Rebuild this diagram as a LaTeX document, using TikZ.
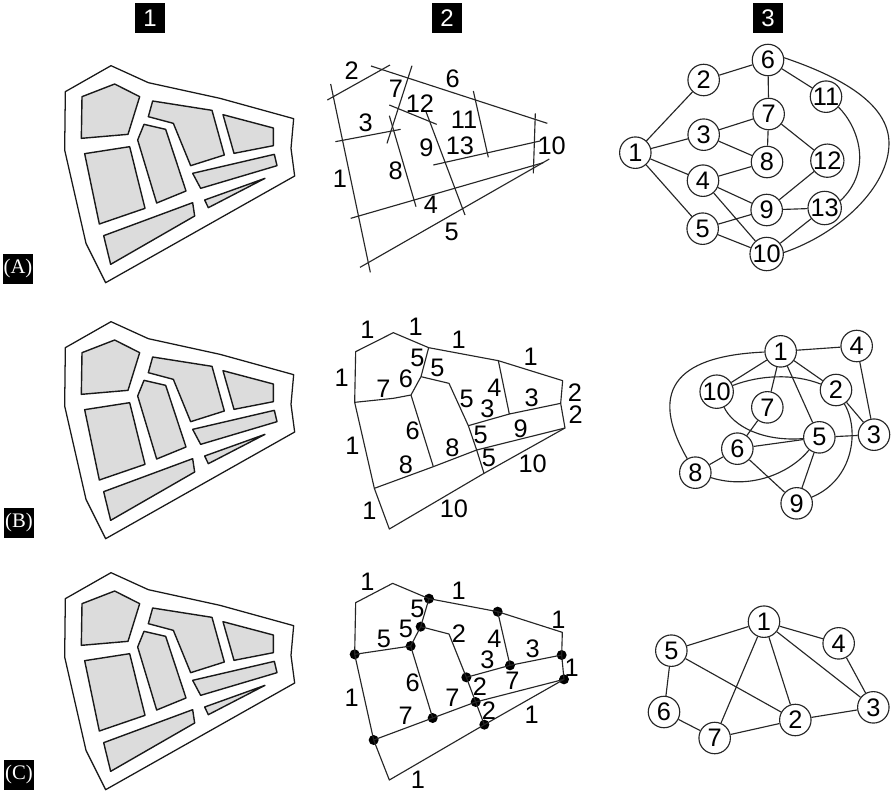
\documentclass[tikz,border=0pt]{standalone}
\usepackage{fontspec}
\setmainfont{Liberation Sans}
\newfontfamily\serifcap{Liberation Serif}
\definecolor{blockgray}{HTML}{DCDCDC}
\tikzset{
  ln/.style={draw=black!85,line width=.85pt,line join=round},
  outerline/.style={draw=black!90,line width=.95pt,line join=round},
  block/.style={draw=black!90,fill=blockgray,line width=1.05pt,line join=round},
  num/.style={font=\fontsize{19}{19}\selectfont,inner sep=0pt,text=black},
  gn/.style={circle,draw=black!85,fill=white,line width=.85pt,minimum size=23.6pt,inner sep=0pt,font=\fontsize{19}{19}\selectfont,text=black},
  head/.style={fill=black,text=white,minimum size=22.5pt,inner sep=0pt,font=\fontsize{18}{18}\selectfont},
  rowlab/.style={fill=black,text=white,minimum size=22.5pt,inner sep=0pt,font=\serifcap\fontsize{15.5}{15.5}\selectfont},
  dot/.style={circle,fill=black,minimum size=7.5pt,inner sep=0pt},
  zoomed/.style={x=.25pt,y=-.25pt},
}
\newcommand{\cityplan}[1]{%
\begin{scope}[shift={(0,#1)},zoomed]
\draw[outerline] (196,275)--(333,197)--(445,248)--(660,295)--(881,356)--(873,445)--(884,528)--(317,848)--(258,730)--(194,450)--cycle;
\draw[block] (246,290)--(344,252)--(419,290)--(384,403)--(244,415)--cycle;
\draw[block] (458,303)--(636,331)--(673,465)--(572,497)--(520,370)--(445,350)--cycle;
\draw[block] (669,344)--(820,384)--(820,437)--(702,460)--cycle;
\draw[block] (254,461)--(389,440)--(435,625)--(298,672)--cycle;
\draw[block] (432,373)--(497,388)--(558,573)--(470,609)--(413,420)--cycle;
\draw[block] (578,520)--(823,463)--(831,497)--(602,565)--cycle;
\draw[block] (614,600)--(795,535)--(625,623)--cycle;
\draw[block] (311,707)--(578,608)--(584,648)--(332,793)--cycle;
\end{scope}}
\begin{document}
\begin{tikzpicture}[x=.75pt,y=-.75pt]
\path[use as bounding box,fill=white] (0,0) rectangle (894,794);
% headers
\node[head] (h1) at (150,18) {1};
\node[head] (h2) at (447,18) {2};
\node[head] (h3) at (768,18) {3};
\node[rowlab] (ra) at (18,269) {(A)};
\node[rowlab] (rb) at (19,523) {(B)};
\node[rowlab] (rc) at (19,775) {(C)};
% column 1
\cityplan{0}
\cityplan{256}
\cityplan{507}
% column 2, row A
\begin{scope}[shift={(310,30)},zoomed]
\draw[ln] (52,210)--(240,105);
\draw[ln] (183,108)--(712,280);
\draw[ln] (62,162)--(181,727);
\draw[ln] (306,107)--(231,340);
\draw[ln] (238,225)--(380,283);
\draw[ln] (238,257)--(318,530);
\draw[ln] (76,335)--(272,298);
\draw[ln] (348,245)--(465,555);
\draw[ln] (490,183)--(535,382);
\draw[ln] (370,405)--(690,333);
\draw[ln] (676,250)--(670,430);
\draw[ln] (122,565)--(700,398);
\draw[ln] (150,712)--(718,387);
\foreach \t/\x/\y/\n in {2/125/122/l1,6/428/145/l2,7/258/175/l3,12/330/220/l4,11/462/268/l5,3/167/278/l6,9/349/353/l7,13/450/348/l8,10/725/348/l9,8/257/422/l10,1/90/447/l11,4/363/525/l12,5/425/605/l13}
  \node[num] (pa\n) at (\x,\y) {\t};
\end{scope}
% column 2, row B
\begin{scope}[shift={(310,300)},zoomed]
\draw[ln] (137,155)--(250,98)--(356,143)--(565,182)--(758,242)--(752,310)--(765,384)--(522,520)--(238,687)--(193,565)--(134,307)--cycle;
\draw[ln] (356,143)--(333,230)--(303,285)--(250,295)--(134,307);
\draw[ln] (333,230)--(417,250)--(475,377)--(500,450)--(522,520);
\draw[ln] (303,285)--(370,500);
\draw[ln] (193,565)--(370,500)--(500,450)--(765,384);
\draw[ln] (475,377)--(598,342)--(752,310);
\draw[ln] (565,182)--(598,342);
\foreach \t/\x/\y/\n in {1/172/90/l1,1/317/80/l2,1/446/120/l3,1/662/170/l4,1/95/233/l5,1/127/438/l6,1/178/632/l7,5/322/175/l8,5/382/205/l9,6/288/235/l10,7/220/265/l11,4/553/262/l12,5/470/298/l13,3/532/325/l14,3/665/292/l15,2/795/277/l16,2/797/343/l17,6/308/393/l18,5/512/405/l19,9/632/385/l20,8/427/442/l21,8/288/495/l22,5/537/475/l23,10/668/490/l24,10/432/625/l25}
  \node[num] (pb\n) at (\x,\y) {\t};
\end{scope}
% column 2, row C
\begin{scope}[shift={(310,560)},zoomed]
\node[dot] (a) at (357,116) {};
\node[dot] (b) at (563,155) {};
\node[dot] (c) at (755,285) {};
\node[dot] (d) at (762,358) {};
\node[dot] (e) at (600,316) {};
\node[dot] (f) at (469,352) {};
\node[dot] (g) at (497,426) {};
\node[dot] (h) at (523,494) {};
\node[dot] (i) at (368,474) {};
\node[dot] (j) at (191,540) {};
\node[dot] (k) at (134,283) {};
\node[dot] (l) at (302,258) {};
\node[dot] (m) at (332,200) {};
\coordinate (o1) at (137,128);
\coordinate (o2) at (248,70);
\coordinate (o3) at (757,217);
\coordinate (o4) at (238,660);
\coordinate (o5) at (417,222);
\draw[ln] (k.center)--(o1)--(o2)--(a.center)--(b.center)--(o3)--(c.center)--(d.center)--(h.center)--(o4)--(j.center)--(k.center);
\draw[ln] (a.center)--(m.center)--(l.center)--(k.center);
\draw[ln] (m.center)--(o5)--(f.center)--(g.center)--(h.center);
\draw[ln] (l.center)--(i.center);
\draw[ln] (j.center)--(i.center)--(g.center)--(d.center);
\draw[ln] (f.center)--(e.center)--(c.center);
\draw[ln] (b.center)--(e.center);
\foreach \t/\x/\y/\n in {1/172/65/l1,1/446/92/l2,1/745/178/l3,1/785/322/l4,1/125/412/l5,1/665/465/l6,1/324/660/l7,5/322/148/l8,5/288/208/l9,2/447/222/l10,5/222/238/l11,4/553/235/l12,3/532/300/l13,3/668/265/l14,6/308/367/l15,7/607/362/l16,2/510/380/l17,7/427/412/l18,7/287/468/l19,2/537/452/l20}
  \node[num] (pc\n) at (\x,\y) {\t};
\end{scope}
% column 3, row A
\begin{scope}[shift={(600,30)},zoomed]
\foreach \t/\x/\y in {1/106/368,2/311/150,3/311/314,4/309/452,5/308/596,6/504/90,7/506/252,8/501/396,9/500/540,10/500/672,11/678/200,12/682/392,13/674/534}
  \node[gn] (A\t) at (\x,\y) {\t};
\coordinate (Amid) at (867,340);
\draw[ln] (A1)--(A2) (A2)--(A6) (A1)--(A3) (A1)--(A4) (A1)--(A5) (A3)--(A7) (A3)--(A8) (A4)--(A8) (A4)--(A9) (A4)--(A10) (A5)--(A9) (A5)--(A10) (A6)--(A7) (A7)--(A8) (A7)--(A12) (A6)--(A11) (A12)--(A9) (A9)--(A13) (A13)--(A10);
\draw[ln] (A11.-40) .. controls (775,290) and (820,420) .. (A13.25);
\draw[ln] (A6.8) .. controls (720,140) and (867,220) .. (Amid) .. controls (867,470) and (720,610) .. (A10.5);
\end{scope}
% column 3, row B
\begin{scope}[shift={(620,310)},zoomed]
\foreach \t/\x/\y in {1/482/124,4/710/108,10/290/245,2/648/240,7/442/292,3/762/374,5/598/382,6/352/416,8/226/488,9/530/580}
  \node[gn] (B\t) at (\x,\y) {\t};
\draw[ln] (B1)--(B4) (B1)--(B10) (B1)--(B2) (B1)--(B7) (B1)--(B5) (B7)--(B6) (B6)--(B8) (B6)--(B5) (B6)--(B9) (B5)--(B9) (B5)--(B3) (B2)--(B3) (B4)--(B3);
\draw[ln] (B1) .. controls (230,135) and (60,200) .. (B8);
\draw[ln] (B10) .. controls (420,195) and (520,190) .. (B2);
\draw[ln] (B10) .. controls (340,350) and (430,395) .. (B5);
\draw[ln] (B8) .. controls (390,540) and (510,490) .. (B5);
\draw[ln] (B2) .. controls (720,360) and (700,510) .. (B9);
\end{scope}
% column 3, row C
\begin{scope}[shift={(620,590)},zoomed]
\foreach \t/\x/\y in {1/432/95,4/656/160,5/154/182,3/760/352,2/526/390,6/132/366,7/284/444}
  \node[gn] (C\t) at (\x,\y) {\t};
\draw[ln] (C1)--(C5) (C1)--(C4) (C1)--(C3) (C1)--(C2) (C1)--(C7) (C5)--(C2) (C5)--(C6) (C6)--(C7) (C7)--(C2) (C2)--(C3) (C4)--(C3);
\end{scope}
\end{tikzpicture}
\end{document}
